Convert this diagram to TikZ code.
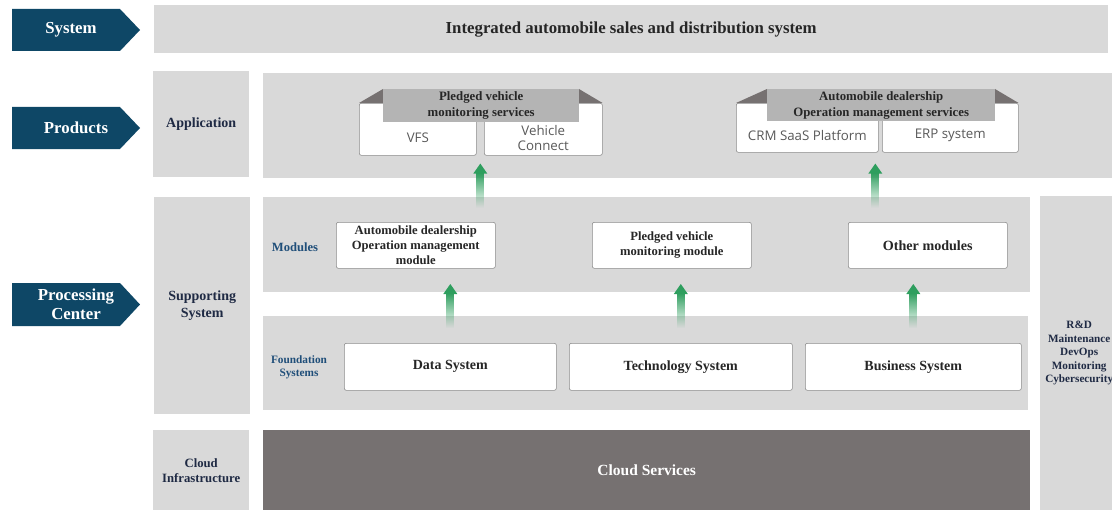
\documentclass[tikz,border=0pt]{standalone}
\usepackage{fontspec}
\setmainfont{Liberation Serif}
\newfontfamily\uisans{Open Sans}
\usetikzlibrary{calc,fadings}
\definecolor{navy}{HTML}{0E4766}
\definecolor{lgray}{HTML}{D9D9D9}
\definecolor{dgray}{HTML}{767171}
\definecolor{bandg}{HTML}{B4B4B4}
\definecolor{txt}{HTML}{262626}
\definecolor{lbl}{HTML}{1F2A44}
\definecolor{blu}{HTML}{1F4E79}
\definecolor{grn}{HTML}{2E9E5E}
\definecolor{boxline}{HTML}{8C8C8C}
\definecolor{sanstxt}{HTML}{595959}
\newcommand\upgreen[2]{%
  \fill[grn,path fading=south] ($(#1)+(-4,9)$) rectangle ($(#2)+(4,0)$);
  \fill[grn] ($(#1)+(-7,10)$) -- (#1) -- ($(#1)+(7,10)$) -- cycle;}
\newcommand\fs[2]{\fontsize{#1}{#2}\selectfont}
\begin{document}
\begin{tikzpicture}[x=1pt,y=-1pt,
  panel/.style={fill=lgray,draw=none,anchor=north west,inner sep=0,align=center},
  wbox/.style={fill=white,draw=boxline,line width=0.6pt,rounded corners=2pt,anchor=north west,inner sep=0,align=center},
  chevtxt/.style={text=white,font=\bfseries\fs{16.8}{19.5},align=center},
  sidelbl/.style={text=lbl,font=\bfseries\fs{14}{17},align=center},
  modtxt/.style={text=txt,font=\bfseries\fs{12.6}{15},align=center},
  fndtxt/.style={text=txt,font=\bfseries\fs{14}{16}},
  bandtxt/.style={fill=bandg,anchor=north west,inner sep=0,minimum width=#1,minimum height=33,text=txt,align=center,font=\bfseries\fs{12.8}{16}},
  prodtxt/.style={text=sanstxt,font=\uisans\fs{13.3}{15},align=center},
  bluelbl/.style={text=blu,font=\bfseries\fs{12.6}{13},align=center}]
\useasboundingbox (0,0) rectangle (1112,511);

% chevrons
\fill[navy] (12,9) -- (120,9) -- (140,30) -- (120,51) -- (12,51) -- cycle;
\node[chevtxt] (lsys) at (71,30) {System};
\fill[navy] (12,107) -- (120,107) -- (140,128) -- (120,149) -- (12,149) -- cycle;
\node[chevtxt] (lprod) at (76,128) {Products};
\fill[navy] (12,283) -- (120,283) -- (140,304.5) -- (120,326) -- (12,326) -- cycle;
\node[chevtxt] (lproc) at (76,304.5) {Processing\\Center};

% panels
\node[panel,minimum width=954,minimum height=48,text=txt,font=\bfseries\fs{16.8}{19}] (top) at (154,5) {Integrated automobile sales and distribution system};
\node[panel,minimum width=96,minimum height=106,sidelbl] (app) at (153,71) {Application};
\node[panel,minimum width=849,minimum height=105] (prodp) at (263,73) {};
\node[panel,minimum width=96,minimum height=217,sidelbl] (supp) at (154,197) {Supporting\\System};
\node[panel,minimum width=96,minimum height=80,sidelbl,font=\bfseries\fs{12.7}{15}] (cloudl) at (153,430) {Cloud\\Infrastructure};
\node[panel,minimum width=767,minimum height=95] (modp) at (263,197) {};
\node[panel,minimum width=765,minimum height=94] (fndp) at (263,316) {};
\node[panel,fill=dgray,minimum width=767,minimum height=80,text=white,font=\bfseries\fs{15.5}{18}] (cloud) at (263,430) {Cloud Services};
\node[panel,minimum width=72,minimum height=314] (rd) at (1040,196) {};
\node[sidelbl,font=\bfseries\fs{11.2}{13.5}] (rdt) at ($(rd.center)+(3,0)$) {R\&D\\Maintenance\\DevOps\\Monitoring\\Cybersecurity};

% section labels
\node[bluelbl] (lmod) at (295,247) {Modules};
\node[bluelbl,font=\bfseries\fs{11.3}{13}] (lfnd) at (299,367) {Foundation\\Systems};

% module boxes
\node[wbox,minimum width=159,minimum height=46,modtxt] (modA) at (336,222) {Automobile dealership\\Operation management\\module};
\node[wbox,minimum width=159,minimum height=46,modtxt] (modB) at (592,222) {Pledged vehicle\\monitoring module};
\node[wbox,minimum width=159,minimum height=46,modtxt,font=\bfseries\fs{14.1}{16}] (modC) at (848,222) {Other modules};

% foundation boxes
\node[wbox,minimum width=212,minimum height=47,fndtxt] (data) at (344,343) {Data System};
\node[wbox,minimum width=223,minimum height=47,fndtxt] (tech) at (569,343) {Technology System};
\node[wbox,minimum width=216,minimum height=47,fndtxt] (bus) at (805,343) {Business System};

% product groups
\node[wbox,minimum width=117,minimum height=52] (vfs) at (359,103) {};
\node[wbox,minimum width=118,minimum height=52] (vc) at (484,103) {};
\fill[dgray] (vfs.north west) -- (383,89) -- (383,103) -- cycle;
\fill[dgray] (vc.north east) -- (579,89) -- (579,103) -- cycle;
\node[bandtxt=196] (bandA) at (383,89) {Pledged vehicle\\monitoring services};
\node[prodtxt] (tvfs) at ($(vfs.center)+(0,8)$) {VFS};
\node[prodtxt] (tvc) at ($(vc.center)+(0,8.5)$) {Vehicle\\Connect};

\node[wbox,minimum width=142,minimum height=49] (crm) at (736,103) {};
\node[wbox,minimum width=136,minimum height=49] (erp) at (882,103) {};
\fill[dgray] (crm.north west) -- (767,89) -- (767,103) -- cycle;
\fill[dgray] (erp.north east) -- (995,89) -- (995,103) -- cycle;
\node[bandtxt=228,minimum height=32] (bandB) at (767,89) {Automobile dealership\\Operation management services};
\node[prodtxt] (tcrm) at ($(crm.center)+(0,8)$) {CRM SaaS Platform};
\node[prodtxt] (terp) at ($(erp.center)+(0,8)$) {ERP system};

% green arrows
\coordinate (a1t) at ($(data.north)+(0,-59)$);
\coordinate (a1b) at ($(data.north)+(0,-15)$);
\coordinate (a2t) at ($(tech.north)+(0,-59)$);
\coordinate (a2b) at ($(tech.north)+(0,-15)$);
\coordinate (a3t) at ($(bus.north)+(0,-59)$);
\coordinate (a3b) at ($(bus.north)+(0,-15)$);
\coordinate (g1) at ($(vfs.south east)!0.5!(vc.south west)$);
\coordinate (a4t) at ($(g1)+(0,8)$);
\coordinate (a4b) at ($(g1)+(0,52)$);
\coordinate (g2) at ($(crm.south east)!0.5!(erp.south west)+(-5,0)$);
\coordinate (a5t) at ($(g2)+(0,11)$);
\coordinate (a5b) at ($(g2)+(0,55)$);
\upgreen{a1t}{a1b}
\upgreen{a2t}{a2b}
\upgreen{a3t}{a3b}
\upgreen{a4t}{a4b}
\upgreen{a5t}{a5b}
\end{tikzpicture}
\end{document}
